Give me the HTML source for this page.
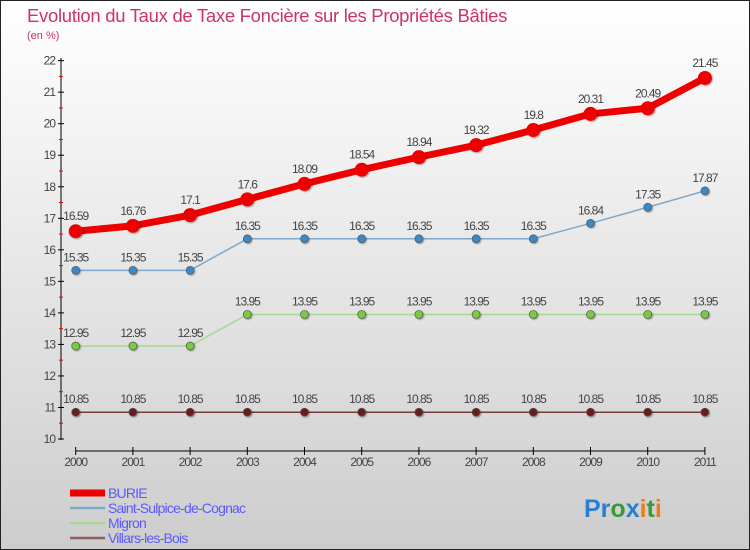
<!DOCTYPE html>
<html><head><meta charset="utf-8"><style>
body{margin:0;width:750px;height:550px;overflow:hidden}
svg{display:block;font-family:"Liberation Sans",sans-serif}
</style></head><body>
<svg width="750" height="550">
<defs><linearGradient id="bg" x1="0" y1="0" x2="0" y2="1"><stop offset="0" stop-color="#ffffff"/><stop offset="1" stop-color="#cdcdcd"/></linearGradient>
<filter id="sh" x="-50%" y="-50%" width="200%" height="200%"><feDropShadow dx="1" dy="1" stdDeviation="0.8" flood-opacity="0.35"/></filter></defs>
<rect x="0.5" y="0.5" width="749" height="549" fill="url(#bg)" stroke="#222"/>
<text x="27" y="22" font-size="18.5" fill="#d0306e" letter-spacing="-0.3">Evolution du Taux de Taxe Foncière sur les Propriétés Bâties</text>
<text x="27" y="39" font-size="11" fill="#d0306e">(en %)</text>
<g id="axes"></g>
<g id="series"></g>
<g id="legend"></g>
<text x="584" y="517" font-size="25" font-weight="bold"><tspan fill="#2a7fcf">Pr</tspan><tspan fill="#3a9a3a">o</tspan><tspan fill="#2a7fcf">x</tspan><tspan fill="#f07b18">i</tspan><tspan fill="#3a9a3a">t</tspan><tspan fill="#f07b18">i</tspan></text>
</svg>
<script>
const years=[2000,2001,2002,2003,2004,2005,2006,2007,2008,2009,2010,2011];
const burie=[16.59,16.76,17.1,17.6,18.09,18.54,18.94,19.32,19.8,20.31,20.49,21.45];
const stSulpice=[15.35,15.35,15.35,16.35,16.35,16.35,16.35,16.35,16.35,16.84,17.35,17.87];
const migron=[12.95,12.95,12.95,13.95,13.95,13.95,13.95,13.95,13.95,13.95,13.95,13.95];
const villars=[10.85,10.85,10.85,10.85,10.85,10.85,10.85,10.85,10.85,10.85,10.85,10.85];
const yTicks=[10,11,12,13,14,15,16,17,18,19,20,21,22];
const seriesNames=["BURIE","Saint-Sulpice-de-Cognac","Migron","Villars-les-Bois"];
const NS="http://www.w3.org/2000/svg";
const X=i=>75.7+i*57.2;
const Y=v=>439-(v-10)*31.53;
function mk(tag,attrs,parent,text){const e=document.createElementNS(NS,tag);for(const k in attrs)e.setAttribute(k,attrs[k]);if(text!==undefined)e.textContent=text;parent.appendChild(e);return e;}
const ax=document.getElementById('axes');
let a=mk('line',{x1:61,y1:58,x2:61,y2:440,stroke:'#000','stroke-width':1},ax);


a=mk('line',{x1:75.7,y1:451,x2:X(11),y2:451,stroke:'#000','stroke-width':1},ax);


yTicks.forEach(t=>{
 mk('line',{x1:58,y1:Y(t),x2:64,y2:Y(t),stroke:'#000'},ax);
 if(t<22) mk('line',{x1:59,y1:Y(t+0.5),x2:63,y2:Y(t+0.5),stroke:'#e00'},ax);
 const l=mk('text',{x:55,y:Y(t)+4,'font-size':12,'text-anchor':'end',fill:'#444','letter-spacing':'-1'},ax,String(t));
 
 
});
years.forEach((y,i)=>{
 mk('line',{x1:X(i),y1:447,x2:X(i),y2:455,stroke:'#000'},ax);
 const l=mk('text',{x:X(i),y:466,'font-size':12,'text-anchor':'middle',fill:'#444','letter-spacing':'-1'},ax,String(y));
 
 
});
const sg=document.getElementById('series');
const defs=[[villars,'#7a3838','#6a1a1a',4,1.5],[migron,'#a8d890','#78cc3c',4,1.5],[stSulpice,'#7fa9cc','#3a88c8',4,1.5],[burie,'#ee0000','#ee0000',7,7]];
const names=["villars-les-bois","migron","saint-sulpice-de-cognac","burie"];
defs.forEach(([d,lc,pc,r,w],k)=>{
 const g=mk('g',{},sg);
 
 
 const p=mk('polyline',{points:d.map((v,i)=>X(i)+','+Y(v)).join(' '),fill:'none',stroke:lc,'stroke-width':w,'stroke-linejoin':'round'},g);
 
 
 d.forEach((v,i)=>{
  const c=mk('circle',{cx:X(i),cy:Y(v),r:r,fill:pc,stroke:'#555','stroke-width':k==3?0:0.7,filter:'url(#sh)'},g);
  
  
  const t=mk('text',{x:X(i),y:Y(v)-(k==3?11:9),'font-size':12,'text-anchor':'middle',fill:'#444','letter-spacing':'-1'},g,String(v));
  
  
 });
});
const lg=document.getElementById('legend');
const lcol=['#ee0000','#7fa9cc','#a8d890','#8a6060'];
seriesNames.forEach((n,i)=>{
 const y=493+i*15;
 const g=mk('g',{},lg);
 
 
 mk('line',{x1:70,y1:y,x2:105,y2:y,stroke:lcol[i],'stroke-width':i==0?7:2.5},g);
 mk('text',{x:108,y:y+5,'font-size':14,fill:'#5a5aff','letter-spacing':'-0.8'},g,n);
});
</script>
</body></html>
